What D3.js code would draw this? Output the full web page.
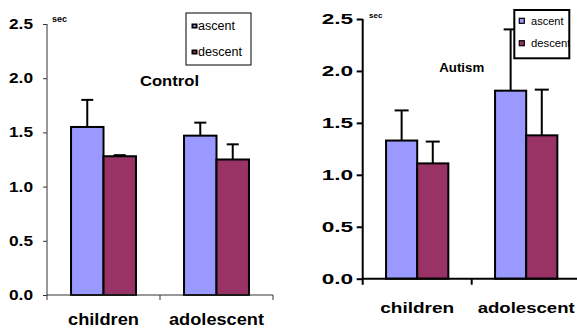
<!DOCTYPE html>
<head>
  <meta charset="utf-8" />
  <script src="https://d3js.org/d3.v7.min.js"></script>
  <style>
    body { margin: 0; background: #fff; }
    text { font-family: Arial, "Liberation Sans", sans-serif; }
  </style>
</head>
<body>
<script>
  const categories = ["children", "adolescent"];
  const series = ["ascent", "descent"];
  const colors = ["#9999ff", "#993366"];
  const yTicks = [0, 0.5, 1.0, 1.5, 2.0, 2.5];

  // mean time (sec) and error (+SD)
  const controlAscent = [1.55, 1.47];
  const controlAscentErr = [0.25, 0.12];
  const controlDescent = [1.28, 1.25];
  const controlDescentErr = [0.01, 0.14];

  const autismAscent = [1.33, 1.81];
  const autismAscentErr = [0.29, 0.59];
  const autismDescent = [1.11, 1.38];
  const autismDescentErr = [0.21, 0.44];

  const W = 577, H = 329;
  const svg = d3.select("body").append("svg")
    .attr("width", W).attr("height", H);

  const draw = (cfg) => {
    const g = svg.append("g");
    const y = d3.scaleLinear().domain([0, 2.5]).range([cfg.y0, cfg.y1]);
    const x = d3.scaleBand().domain(categories).range([cfg.x0, cfg.x1]);
    const x1 = d3.scaleBand().domain(series).range([0, x.bandwidth()])
      .paddingInner(0).paddingOuter(cfg.pad);

    const rows = categories.flatMap((c, i) => [
      { c, s: "ascent", v: cfg.asc[i], e: cfg.ascErr[i], col: colors[0] },
      { c, s: "descent", v: cfg.desc[i], e: cfg.descErr[i], col: colors[1] },
    ]);

    // error bars (drawn first; bar covers the lower part)
    const eb = g.append("g").attr("stroke", "#000").attr("stroke-width", cfg.errW);
    rows.forEach((d) => {
      const cx = x(d.c) + x1(d.s) + x1.bandwidth() / 2;
      eb.append("line").attr("x1", cx).attr("x2", cx)
        .attr("y1", y(d.v)).attr("y2", y(d.v + d.e));
      eb.append("line").attr("x1", cx - cfg.cap / 2).attr("x2", cx + cfg.cap / 2)
        .attr("y1", y(d.v + d.e)).attr("y2", y(d.v + d.e));
    });

    g.append("g").selectAll("rect").data(rows).join("rect")
      .attr("x", (d) => x(d.c) + x1(d.s))
      .attr("y", (d) => y(d.v))
      .attr("width", x1.bandwidth())
      .attr("height", (d) => y(0) - y(d.v))
      .attr("fill", (d) => d.col)
      .attr("stroke", "#000")
      .attr("stroke-width", cfg.barW);

    // y axis
    const ya = g.append("g")
      .attr("transform", `translate(${cfg.x0},0)`)
      .call(d3.axisLeft(y).tickValues(yTicks).tickFormat(d3.format(".1f"))
        .tickSize(cfg.tickY).tickPadding(cfg.tickPad));
    ya.select(".domain").remove();
    ya.selectAll(".tick line").attr("stroke", cfg.axisCol).attr("stroke-width", cfg.axisW);
    ya.selectAll(".tick text")
      .attr("font-size", cfg.tickFont).attr("font-weight", "bold").attr("fill", "#000")
      .attr("font-family", "Arial, 'Liberation Sans', sans-serif")
      .attr("textLength", cfg.tickLen).attr("lengthAdjust", "spacingAndGlyphs");
    g.append("line").attr("x1", cfg.x0).attr("x2", cfg.x0)
      .attr("y1", y(2.5)).attr("y2", y(0) + cfg.tickX)
      .attr("stroke", cfg.axisCol).attr("stroke-width", cfg.axisW);

    // x axis
    g.append("line").attr("x1", cfg.x0).attr("x2", cfg.x1)
      .attr("y1", y(0)).attr("y2", y(0))
      .attr("stroke", cfg.axisCol).attr("stroke-width", cfg.axisW);
    categories.forEach((c) => {
      const xe = x(c) + x.bandwidth();
      g.append("line").attr("x1", xe).attr("x2", xe)
        .attr("y1", y(0)).attr("y2", y(0) + cfg.tickX)
        .attr("stroke", cfg.axisCol).attr("stroke-width", cfg.axisW);
    });
    g.append("g").selectAll("text").data(categories).join("text")
      .attr("x", (c) => x(c) + x.bandwidth() / 2)
      .attr("y", cfg.labY)
      .attr("text-anchor", "middle")
      .attr("font-size", cfg.labFont).attr("font-weight", "bold")
      .attr("textLength", (c, i) => cfg.labLen[i]).attr("lengthAdjust", "spacingAndGlyphs")
      .text((c) => c);

    // unit
    g.append("text").attr("x", cfg.secX).attr("y", cfg.secY)
      .attr("font-size", cfg.secFont).attr("font-weight", "bold").text("sec");

    // title
    g.append("text").attr("x", cfg.titleX).attr("y", cfg.titleY)
      .attr("text-anchor", "middle").attr("font-size", cfg.titleFont)
      .attr("font-weight", "bold")
      .attr("textLength", cfg.titleLen).attr("lengthAdjust", "spacingAndGlyphs")
      .text(cfg.title);

    // legend
    const L = cfg.leg;
    const clipId = "clip" + cfg.title;
    svg.append("clipPath").attr("id", clipId).append("rect")
      .attr("x", L.x).attr("y", L.y).attr("width", L.w).attr("height", L.h);
    const lg = g.append("g");
    lg.append("rect").attr("x", L.x).attr("y", L.y).attr("width", L.w).attr("height", L.h)
      .attr("fill", "#fff").attr("stroke", "#000").attr("stroke-width", L.sw);
    const items = lg.append("g").attr("clip-path", `url(#${clipId})`);
    series.forEach((s, i) => {
      const sy = L.itemY[i];
      if (L.dark) {
        items.append("rect").attr("x", L.sqX).attr("y", sy).attr("width", L.sq).attr("height", L.sq - 1)
          .attr("fill", "#000");
        items.append("rect").attr("x", L.sqX + 2).attr("y", sy + 1.5).attr("width", L.sq - 4).attr("height", L.sq - 4)
          .attr("fill", colors[i]);
      } else {
        items.append("rect").attr("x", L.sqX).attr("y", sy).attr("width", L.sq).attr("height", L.sq)
          .attr("fill", colors[i]).attr("stroke", "#000").attr("stroke-width", 1.2);
      }
      items.append("text").attr("x", L.txtX).attr("y", L.txtY[i])
        .attr("font-size", L.font)
        .attr("textLength", L.txtLen[i]).attr("lengthAdjust", "spacingAndGlyphs")
        .text(s);
    });
  };

  draw({
    title: "Control",
    asc: controlAscent, ascErr: controlAscentErr,
    desc: controlDescent, descErr: controlDescentErr,
    x0: 47, x1: 273, y0: 295, y1: 24, pad: 0.74,
    cap: 12, errW: 2, barW: 2,
    axisCol: "#333", axisW: 1, tickY: 4, tickPad: 10, tickX: 5,
    tickFont: 14, tickLen: 24,
    labY: 325, labFont: 17, labLen: [71, 95],
    secX: 52, secY: 22, secFont: 9,
    titleX: 169.5, titleY: 86, titleFont: 15, titleLen: 59,
    leg: { x: 186, y: 13, w: 65, h: 52, sw: 1, dark: true, sqX: 191.5, sq: 6,
      itemY: [23.5, 49.5], txtX: 198, txtY: [29.5, 55.5], font: 12.5, txtLen: [37, 44] },
  });

  draw({
    title: "Autism",
    asc: autismAscent, ascErr: autismAscentErr,
    desc: autismDescent, descErr: autismDescentErr,
    x0: 362.7, x1: 580.7, y0: 278.7, y1: 19, pad: 0.75,
    cap: 14, errW: 2, barW: 2,
    axisCol: "#000", axisW: 2, tickY: 6, tickPad: 3.5, tickX: 6,
    tickFont: 15, tickLen: 31.5,
    labY: 312.5, labFont: 15.5, labLen: [74, 97],
    secX: 369, secY: 18, secFont: 8,
    titleX: 461.7, titleY: 71.5, titleFont: 13, titleLen: 45,
    leg: { x: 514.3, y: 10, w: 55, h: 48.3, sw: 2, dark: false, sqX: 519.3, sq: 5,
      itemY: [18.3, 40.7], txtX: 531, txtY: [25, 47], font: 10, txtLen: [32.5, 39.5] },
  });
</script>
</body>
